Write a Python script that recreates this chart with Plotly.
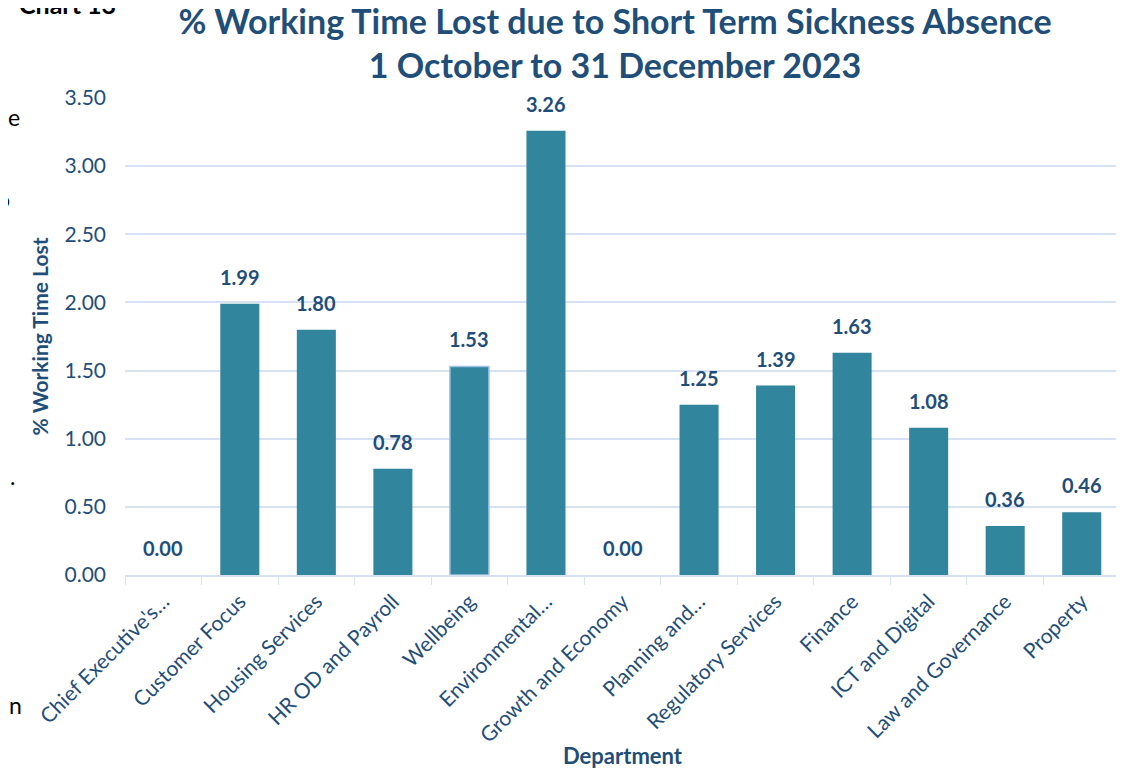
import plotly.graph_objects as go

departments = [
    "Chief Executive's…",
    "Customer Focus",
    "Housing Services",
    "HR OD and Payroll",
    "Wellbeing",
    "Environmental…",
    "Growth and Economy",
    "Planning and…",
    "Regulatory Services",
    "Finance",
    "ICT and Digital",
    "Law and Governance",
    "Property",
]
pct_lost = [0.00, 1.99, 1.80, 0.78, 1.53, 3.26, 0.00, 1.25, 1.39, 1.63, 1.08, 0.36, 0.46]
y_ticks = [0, 0.5, 1.0, 1.5, 2.0, 2.5, 3.0, 3.5]

BLUE = "#1F4E79"
BAR = "#31859C"
GRID = "#D6E2F3"
FONT = "Lato"

# plot area in page pixels
L, R, T, B = 125, 1120, 98, 575
W, H = 1124, 768

outline_col = ["#9DC3E6" if d == "Wellbeing" else BAR for d in departments]
outline_w = [1.5 if d == "Wellbeing" else 0 for d in departments]

fig = go.Figure()
fig.add_trace(
    go.Bar(
        x=departments,
        y=pct_lost,
        marker={"color": BAR, "line": {"color": outline_col, "width": outline_w}},
        width=0.51,
        cliponaxis=False,
        hovertemplate="%{x}: %{y:.2f}<extra></extra>",
    )
)

# value labels above the bars
for d, v in zip(departments, pct_lost):
    fig.add_annotation(
        x=d, y=v, text=f"<b>{v:.2f}</b>", showarrow=False,
        yanchor="middle", yshift=27,
        font={"family": FONT, "size": 20, "color": BLUE},
    )


def px(x):
    return (x - L) / (R - L)


def py(y):
    return (B - y) / (B - T)


fig.add_annotation(
    text="<b>Department</b>", xref="paper", yref="paper", x=px(623), y=py(755),
    xanchor="center", yanchor="middle", showarrow=False,
    font={"family": FONT, "size": 22, "color": BLUE},
)

# fragments of the surrounding page text, cut by the crop
stray = [("<b>Chart 13</b>", 17, 4, "left"), ("e", 6, 117, "left"),
         ("o", 12, 199, "right"), (".", 8, 476, "left"), ("n", 7, 705, "left")]
for txt, x, y, anchor in stray:
    fig.add_annotation(
        text=txt, xref="paper", yref="paper", x=px(x), y=py(y),
        xanchor=anchor, yanchor="middle", showarrow=False,
        font={"family": FONT, "size": 25 if "Chart" in txt else 23, "color": "#000000"},
    )

fig.update_layout(
    title={
        "text": "<b>% Working Time Lost due to Short Term Sickness Absence<br>1 October to 31 December 2023</b>",
        "x": 607 / W, "xanchor": "center",
        "yref": "container", "y": 1 - 26 / H, "yanchor": "top",
        "font": {"family": FONT, "size": 34, "color": BLUE},
    },
    width=W, height=H,
    margin={"l": L - 8, "r": W - (R - 8), "t": T - 8, "b": H - (B - 8)},
    plot_bgcolor="white", paper_bgcolor="white",
    showlegend=False,
    font={"family": FONT, "color": BLUE},
)
fig.update_xaxes(
    automargin=False,
    tickangle=-45,
    tickfont={"size": 21, "color": BLUE},
    showline=True, linecolor=GRID, linewidth=2,
    ticks="outside", ticklen=8, tickcolor=GRID, tickson="boundaries",
    ticklabelstandoff=4,
    showgrid=False,
)
fig.update_yaxes(
    title={"text": "<b>% Working Time Lost</b>", "font": {"size": 21, "color": BLUE}, "standoff": 10},
    automargin=False,
    range=[0, 3.5], tickvals=y_ticks, tickformat=".2f",
    tickfont={"size": 21, "color": BLUE},
    showgrid=True, gridcolor=GRID, gridwidth=2,
    zeroline=False, ticks="", ticklabelstandoff=18,
)

fig.write_html("out.html")
